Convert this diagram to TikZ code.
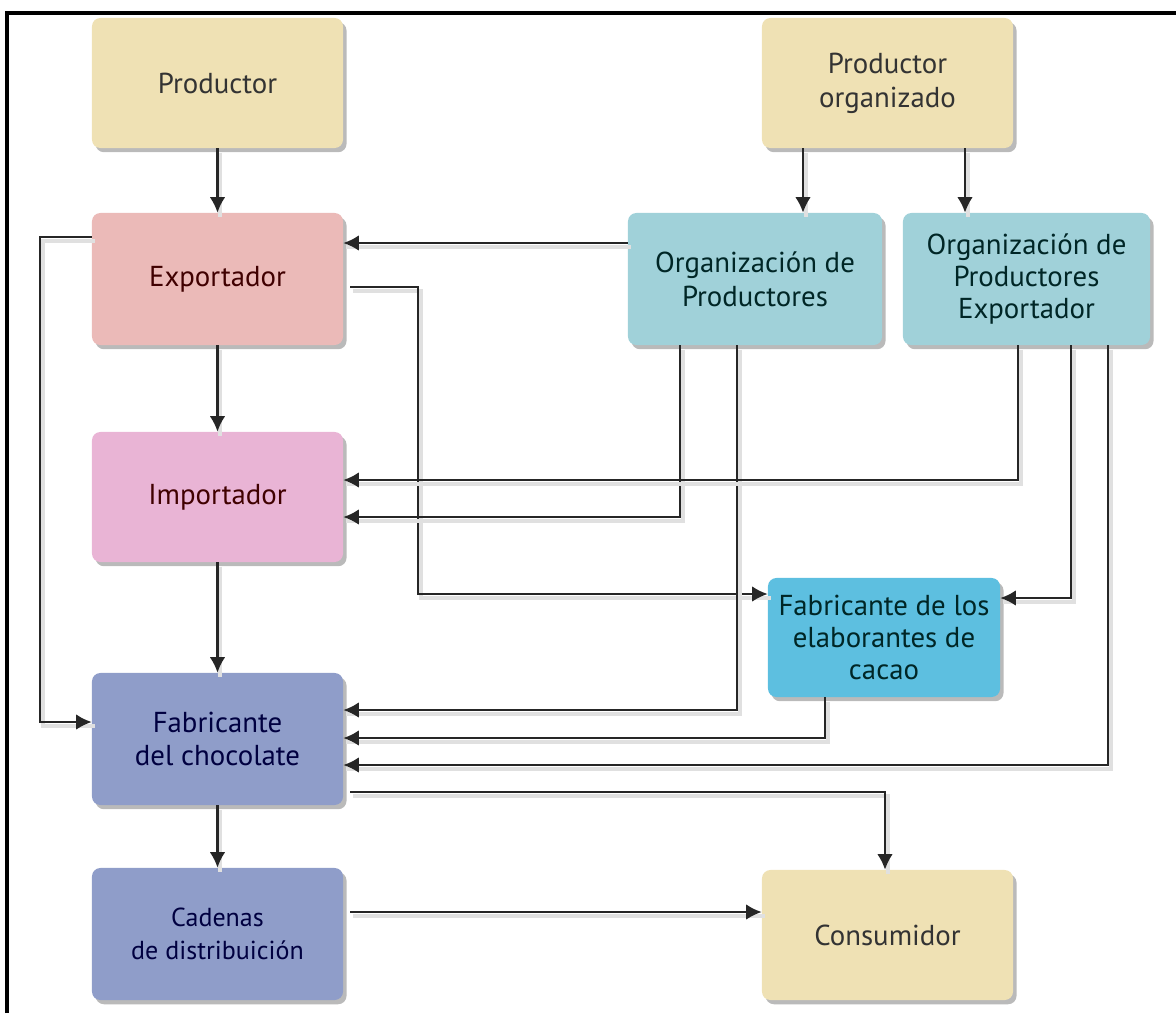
\documentclass[tikz,border=0pt]{standalone}
\usepackage{fontspec}
\setmainfont{PT Sans}
\usetikzlibrary{arrows.meta,shadows}

\definecolor{crema}{HTML}{EFE1B4}
\definecolor{salmon}{HTML}{EBBAB8}
\definecolor{rosa}{HTML}{E9B4D5}
\definecolor{lila}{HTML}{8F9DC9}
\definecolor{aqua}{HTML}{A0D1D9}
\definecolor{celeste}{HTML}{5DBFE0}

\tikzset{
  caja/.style={rounded corners=6pt, align=center, inner sep=2pt,
    minimum width=6.275cm, minimum height=3.25cm,
    font=\fontsize{20.5}{24}\selectfont,
    drop shadow={shadow xshift=2.5pt, shadow yshift=-3pt, opacity=0.45, fill=black!60}},
  flecha/.style={line width=1.5pt, draw=black!85, -{Latex[length=11pt,width=11pt]},
    preaction={draw=black!12, line width=3pt, -, transform canvas={xshift=2pt,yshift=-3pt}}}
}

\begin{document}
\begin{tikzpicture}[x=0.025cm, y=-0.025cm]
\useasboundingbox (0,0) rectangle (1176,1013);
\draw[line width=2.2pt] (7,1013) -- (7,13) -- (1176,13);

% cajas de la columna izquierda
\node[caja, fill=crema, text=black!80] (prod) at (217.5,83) {Productor};
\node[caja, fill=salmon, text=black!75!red, minimum height=3.3cm] (export) at (217.5,279) {Exportador};
\node[caja, fill=rosa, text=black!75!red] (import) at (217.5,497) {Importador};
\node[caja, fill=lila, text=black!75!blue, minimum height=3.3cm] (fabchoc) at (217.5,739) {Fabricante\\del chocolate};
\node[caja, fill=lila, text=black!75!blue, minimum height=3.3cm, font=\fontsize{18.5}{24}\selectfont] (cadenas) at (217.5,934) {Cadenas\\de distribuición};

% cajas de la derecha
\node[caja, fill=crema, text=black!80] (prodorg) at (887.5,83) {Productor\\organizado};
\node[caja, fill=aqua, text=black!70!teal, minimum width=6.35cm, minimum height=3.3cm] (orgprod) at (755,279) {Organización de\\Productores};
\node[caja, fill=aqua, text=black!70!teal, minimum width=6.175cm, minimum height=3.3cm, font=\fontsize{20.5}{22.5}\selectfont] (orgexp) at (1026.5,279) {Organización de\\Productores\\Exportador};
\node[caja, fill=celeste, text=black!70!teal, minimum width=5.8cm, minimum height=2.975cm, font=\fontsize{20.5}{22.5}\selectfont] (fabelab) at (884,637.5) {Fabricante de los\\elaborantes de\\cacao};
\node[caja, fill=crema, text=black!80] (consum) at (887.5,935) {Consumidor};

% flechas verticales
\draw[flecha] (prod) -- (export);
\draw[flecha] (export) -- (import);
\draw[flecha] (import) -- (fabchoc);
\draw[flecha] (fabchoc) -- (cadenas);
\draw[flecha] (prodorg.south -| 803,0) -- (orgprod.north -| 803,0);
\draw[flecha] (prodorg.south -| 965,0) -- (orgexp.north -| 965,0);

% desde el exportador
\draw[flecha] (orgprod.west |- 0,243) -- (export.east |- 0,243);
\draw[flecha] (export.west |- 0,237) -| (40,722) -- (fabchoc.west |- 0,722);
\draw[flecha, shorten <=5pt] (export.east |- 0,287) -| (418,594) -- (fabelab.west |- 0,594);

% desde las organizaciones
\draw[flecha] (orgprod.south -| 680,0) |- (import.east |- 0,517);
\draw[flecha] (orgprod.south -| 737,0) |- (fabchoc.east |- 0,710);
\draw[flecha] (orgexp.south -| 1018,0) |- (import.east |- 0,480);
\draw[flecha] (orgexp.south -| 1071,0) |- (fabelab.east |- 0,598);
\draw[flecha] (orgexp.south -| 1108,0) |- (fabchoc.east |- 0,765);
\draw[flecha] (fabelab.south -| 825,0) |- (fabchoc.east |- 0,738);

% hacia el consumidor
\draw[flecha, shorten <=5pt] (fabchoc.east |- 0,792) -| (consum.north -| 885,0);
\draw[flecha, shorten <=5pt] (cadenas.east |- 0,912) -- (consum.west |- 0,912);
\end{tikzpicture}
\end{document}
